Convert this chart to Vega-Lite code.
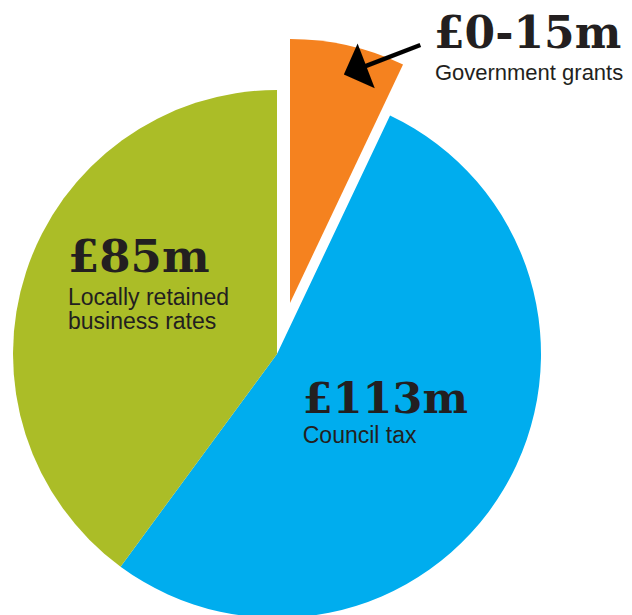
{
  "$schema": "https://vega.github.io/schema/vega-lite/v6.json",
  "width": 554,
  "height": 708,
  "autosize": {"type": "none"},
  "padding": {"left": 0, "top": 0, "right": 78, "bottom": 0},
  "background": "white",
  "config": {"view": {"stroke": null}},
  "data": {
    "values": [
      {"cat": "Government grants", "amount": "£0-15m", "label": "Government grants", "value": 15, "idx": 1},
      {"cat": "Council tax", "amount": "£113m", "label": "Council tax", "value": 113, "idx": 2},
      {"cat": "Locally retained business rates", "amount": "£85m", "label": "Locally retained\nbusiness rates", "value": 85, "idx": 3}
    ]
  },
  "encoding": {
    "theta": {"field": "value", "type": "quantitative", "stack": true},
    "order": {"field": "idx", "type": "quantitative"}
  },
  "layer": [
    {
      "mark": {"type": "arc", "radius": 264},
      "encoding": {
        "color": {"field": "cat", "type": "nominal", "legend": null,
          "scale": {"domain": ["Government grants", "Council tax", "Locally retained business rates"], "range": ["#f5821f", "#00adee", "#abbd27"]}},
        "opacity": {"condition": {"test": "datum.cat === 'Government grants'", "value": 0}, "value": 1}
      }
    },
    {
      "mark": {"type": "arc", "radius": 264, "xOffset": 13, "yOffset": -51},
      "encoding": {
        "color": {"field": "cat", "type": "nominal", "legend": null},
        "opacity": {"condition": {"test": "datum.cat === 'Government grants'", "value": 1}, "value": 0}
      }
    },
    {
      "mark": {"type": "text", "radius": 220, "dy": -13, "align": "left", "baseline": "alphabetic", "font": "DejaVu Serif", "fontWeight": "bold", "fontSize": 45, "color": "#231f20"},
      "encoding": {"text": {"condition": {"test": "datum.cat === 'Locally retained business rates'", "field": "amount"}, "value": ""}}
    },
    {
      "mark": {"type": "text", "radius": 220, "dy": 20, "align": "left", "baseline": "alphabetic", "font": "Liberation Sans", "fontSize": 23, "lineHeight": 24, "lineBreak": "\n", "color": "#231f20"},
      "encoding": {"text": {"condition": {"test": "datum.cat === 'Locally retained business rates'", "field": "label"}, "value": ""}}
    },
    {
      "mark": {"type": "text", "radius": 30, "dy": 44, "align": "left", "baseline": "alphabetic", "font": "DejaVu Serif", "fontWeight": "bold", "fontSize": 43, "color": "#231f20"},
      "encoding": {"text": {"condition": {"test": "datum.cat === 'Council tax'", "field": "amount"}, "value": ""}}
    },
    {
      "mark": {"type": "text", "radius": 30, "dy": 74, "align": "left", "baseline": "alphabetic", "font": "Liberation Sans", "fontSize": 23, "color": "#231f20"},
      "encoding": {"text": {"condition": {"test": "datum.cat === 'Council tax'", "field": "label"}, "value": ""}}
    },
    {
      "mark": {"type": "text", "radius": 314, "dx": 88, "dy": 0, "align": "left", "baseline": "alphabetic", "font": "DejaVu Serif", "fontWeight": "bold", "fontSize": 44, "color": "#231f20"},
      "encoding": {"text": {"condition": {"test": "datum.cat === 'Government grants'", "field": "amount"}, "value": ""}}
    },
    {
      "mark": {"type": "text", "radius": 314, "dx": 89, "dy": 32, "align": "left", "baseline": "alphabetic", "font": "Liberation Sans", "fontSize": 22, "color": "#231f20"},
      "encoding": {"text": {"condition": {"test": "datum.cat === 'Government grants'", "field": "label"}, "value": ""}}
    },
    {
      "mark": {"type": "text", "radius": 303, "dx": -36, "dy": -14, "align": "center", "baseline": "middle", "font": "DejaVu Sans", "fontWeight": "bold", "fontSize": 112, "angle": 159, "color": "#000000"},
      "encoding": {"text": {"condition": {"test": "datum.cat === 'Government grants'", "value": "➝"}, "value": ""}}
    }
  ]
}
